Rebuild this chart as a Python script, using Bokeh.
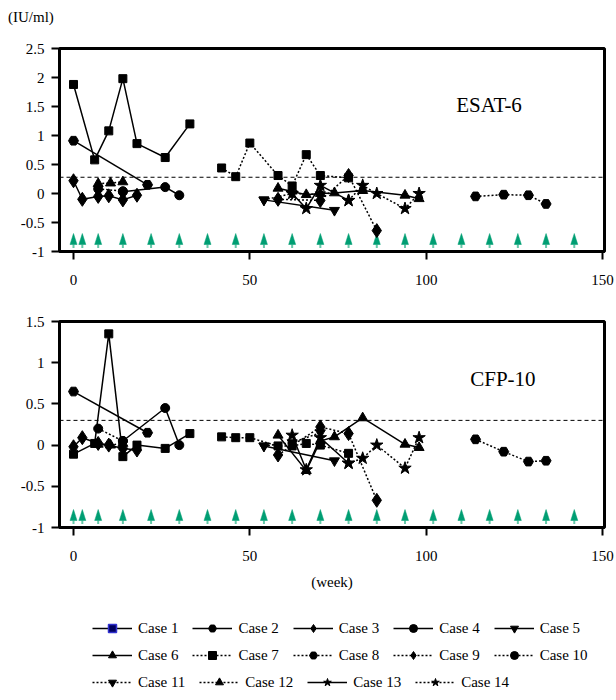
from bokeh.plotting import figure
from bokeh.layouts import column
from bokeh.models import Span, Label, Legend, LegendItem, FixedTicker, Range1d, Div
from bokeh.embed import file_html
from bokeh.resources import INLINE

FONT = "Liberation Serif"

# ---------------- data ----------------
case_names = ["Case 1", "Case 2", "Case 3", "Case 4", "Case 5", "Case 6", "Case 7",
              "Case 8", "Case 9", "Case 10", "Case 11", "Case 12", "Case 13", "Case 14"]

weeks_1 = [0, 6, 10, 14, 18, 26, 33]
esat_1 = [1.88, 0.58, 1.08, 1.98, 0.86, 0.62, 1.20]
cfp_1 = [-0.11, 0.02, 1.35, -0.14, 0.00, -0.04, 0.14]

weeks_2 = [0, 21]
esat_2 = [0.91, 0.15]
cfp_2 = [0.65, 0.15]

weeks_3 = [0, 2.5, 7, 10, 14, 18]
esat_3 = [0.22, -0.10, -0.05, -0.04, -0.11, -0.03]
cfp_3 = [-0.02, 0.09, 0.02, 0.00, -0.04, -0.06]

weeks_4 = [14, 26, 30]
esat_4 = [0.03, 0.11, -0.03]
cfp_4 = [0.05, 0.45, 0.00]

weeks_5 = [54, 74]
esat_5 = [-0.11, -0.29]
cfp_5 = [-0.01, -0.19]

weeks_6 = [58, 66, 70, 74, 82, 94, 98]
esat_6 = [0.09, -0.02, 0.00, 0.01, 0.05, -0.03, -0.09]
cfp_6 = [0.12, -0.31, 0.05, 0.10, 0.33, 0.01, -0.03]

weeks_7 = [42, 46, 50, 58, 62, 66, 70, 78]
esat_7 = [0.44, 0.29, 0.87, 0.31, 0.13, 0.67, 0.31, 0.27]
cfp_7 = [0.10, 0.09, 0.09, -0.01, -0.01, 0.02, 0.00, -0.10]

weeks_8 = [114, 122, 129, 134]
esat_8 = [-0.05, -0.02, -0.03, -0.18]
cfp_8 = [0.07, -0.08, -0.20, -0.19]

weeks_9 = [58, 70, 78, 86]
esat_9 = [-0.10, -0.12, 0.31, -0.64]
cfp_9 = [-0.12, 0.22, 0.14, -0.67]

weeks_10 = [7, 14]
esat_10 = [0.08, 0.04]
cfp_10 = [0.20, 0.05]

weeks_11 = [54, 62, 70]
esat_11 = [-0.11, 0.00, -0.02]
cfp_11 = [-0.01, 0.03, 0.15]

weeks_12 = [7, 10.5, 14]
esat_12 = [0.17, 0.18, 0.20]
cfp_12 = [0.01, 0.00, 0.02]

weeks_13 = [62, 66, 70, 78]
esat_13 = [0.00, -0.26, 0.14, -0.12]
cfp_13 = [0.12, -0.30, 0.09, -0.22]

weeks_14 = [78, 82, 86, 94, 98]
esat_14 = [-0.12, 0.14, 0.00, -0.26, 0.00]
cfp_14 = [-0.22, -0.16, 0.00, -0.28, 0.09]

treatment_weeks = [0, 2.5, 7, 14, 22, 30, 38, 46, 54, 62, 70, 78, 86, 94, 102, 110, 118, 126, 134, 142]

esat_cutoff = 0.28
cfp_cutoff = 0.30

x_ticks = [0, 50, 100, 150]
x_tick_labels = ["0", "50", "100", "150"]
esat_ticks = [-1, -0.5, 0, 0.5, 1, 1.5, 2, 2.5]
esat_tick_labels = ["-1", "-0.5", "0", "0.5", "1", "1.5", "2", "2.5"]
cfp_ticks = [-1, -0.5, 0, 0.5, 1, 1.5]
cfp_tick_labels = ["-1", "-0.5", "0", "0.5", "1", "1.5"]

weeks_all = [weeks_1, weeks_2, weeks_3, weeks_4, weeks_5, weeks_6, weeks_7,
             weeks_8, weeks_9, weeks_10, weeks_11, weeks_12, weeks_13, weeks_14]
esat_all = [esat_1, esat_2, esat_3, esat_4, esat_5, esat_6, esat_7,
            esat_8, esat_9, esat_10, esat_11, esat_12, esat_13, esat_14]
cfp_all = [cfp_1, cfp_2, cfp_3, cfp_4, cfp_5, cfp_6, cfp_7,
           cfp_8, cfp_9, cfp_10, cfp_11, cfp_12, cfp_13, cfp_14]

# ---------------- styles ----------------
markers = ["square", "hex", "diamond", "circle", "inverted_triangle", "triangle",
           "square", "hex", "diamond", "circle", "inverted_triangle", "triangle",
           "star", "star"]
sizes = {"square": 8, "hex": 10, "diamond": 14, "circle": 9,
         "inverted_triangle": 10, "triangle": 10, "star": 13}
dashes = ["solid"] * 6 + ["2 2"] * 6 + ["solid", "2 2"]
ARROW = "#009E73"
ARROW_STEM = "#66c7a8"

W = 616
BL, BR = 59, 12
X_RANGE = (-3.97, 150.57)
FRAME_W = W - BL - BR


def make_panel(values, yr, ticks, tick_labels, cutoff, name, name_xy, height,
               top, bottom, show_xlabel):
    frame_h = height - top - bottom
    p = figure(width=W, height=height, output_backend="svg", toolbar_location=None,
               x_range=Range1d(*X_RANGE), y_range=Range1d(*yr),
               min_border_left=BL, min_border_right=BR,
               min_border_top=top, min_border_bottom=bottom)
    p.xgrid.visible = False
    p.ygrid.visible = False
    p.outline_line_color = "black"
    p.outline_line_width = 3
    p.background_fill_color = "white"
    p.border_fill_color = "white"

    for ax in (p.xaxis[0], p.yaxis[0]):
        ax.axis_line_width = 3
        ax.axis_line_color = "black"
        ax.major_tick_line_width = 2
        ax.major_tick_line_color = "black"
        ax.major_tick_out = 8
        ax.major_tick_in = 0
        ax.minor_tick_line_color = None
        ax.major_label_text_font = FONT
        ax.major_label_text_font_size = "15px"
        ax.major_label_text_color = "black"
    p.xaxis.ticker = FixedTicker(ticks=x_ticks)
    p.xaxis.major_label_overrides = dict(zip(x_ticks, x_tick_labels))
    p.xaxis.major_label_standoff = 15
    p.yaxis.ticker = FixedTicker(ticks=ticks)
    p.yaxis.major_label_overrides = dict(zip(ticks, tick_labels))
    p.yaxis.major_label_standoff = 7
    if show_xlabel:
        p.xaxis.axis_label = "(week)"
        p.xaxis.axis_label_text_font = FONT
        p.xaxis.axis_label_text_font_size = "15px"
        p.xaxis.axis_label_text_font_style = "normal"
        p.xaxis.axis_label_text_color = "black"
        p.xaxis.axis_label_standoff = 10

    p.add_layout(Span(location=cutoff, dimension="width", line_color="black",
                      line_width=1, line_dash="4 3"))

    # treatment arrows (shape sized in pixels, converted to data units)
    ppu = frame_h / (yr[1] - yr[0])
    ppw = FRAME_W / (X_RANGE[1] - X_RANGE[0])
    tip = yr[0] + 18 / ppu
    base = yr[0] + 7 / ppu
    stem = yr[0] + 3.5 / ppu
    hw = 3.5 / ppw
    xs = [[w - hw, w, w + hw] for w in treatment_weeks]
    ys = [[base, tip, base] for _ in treatment_weeks]
    p.segment(x0=treatment_weeks, y0=[base] * len(treatment_weeks),
              x1=treatment_weeks, y1=[stem] * len(treatment_weeks),
              line_color=ARROW_STEM, line_width=2)
    p.patches(xs, ys, fill_color=ARROW, line_color=ARROW, line_width=0.5)

    for wk, val, mk, dash in zip(weeks_all, values, markers, dashes):
        p.line(wk, val, line_color="black", line_width=1.5, line_dash=dash)
        p.scatter(wk, val, marker=mk, size=sizes[mk], fill_color="black",
                  line_color="black")

    p.add_layout(Label(x=name_xy[0], y=name_xy[1], text=name, text_font=FONT,
                       text_font_size="21px", text_color="black",
                       text_baseline="alphabetic"))
    return p


unit_div = Div(text=('<div style="font-family:\'Liberation Serif\';font-size:15px;'
                     'line-height:17px;color:black;margin:0;padding:9px 0 0 8px;">'
                     '(IU/ml)</div>'),
               width=W, height=26, margin=0)

p1 = make_panel(esat_all, (-1, 2.5), esat_ticks, esat_tick_labels, esat_cutoff,
                "ESAT-6", (108.5, 1.53), 269, 22, 44, False)

p2 = make_panel(cfp_all, (-1, 1.5), cfp_ticks, cfp_tick_labels, cfp_cutoff,
                "CFP-10", (112.5, 0.805), 305, 26, 73, True)

# ---------------- legend panel ----------------
p3 = figure(width=W, height=100, output_backend="svg", toolbar_location=None,
            x_range=Range1d(0, 1), y_range=Range1d(0, 1),
            x_axis_type=None, y_axis_type=None,
            min_border_left=BL, min_border_right=BR, min_border_top=0,
            min_border_bottom=0)
p3.xgrid.visible = False
p3.ygrid.visible = False
p3.outline_line_color = None
p3.background_fill_color = "white"
p3.border_fill_color = "white"

items = []
for i, (nm, mk, dash) in enumerate(zip(case_names, markers, dashes)):
    rl = p3.line([-10, -9], [-10, -9], line_color="black", line_width=1.5, line_dash=dash)
    if i == 0:
        rs = p3.scatter([-10], [-10], marker=mk, size=8, fill_color="#000060",
                        line_color="#3030d0", line_width=1.5)
    else:
        rs = p3.scatter([-10], [-10], marker=mk, size=8, fill_color="black",
                        line_color="black")
    items.append(LegendItem(label=nm, renderers=[rl, rs]))

rows = [(items[0:5], 62), (items[5:10], 35), (items[10:14], 8)]
for its, yloc in rows:
    lg = Legend(items=its, orientation="horizontal", location=(33, yloc),
                label_text_font=FONT, label_text_font_size="15px",
                label_text_color="black", glyph_width=40, glyph_height=20,
                label_standoff=6, spacing=14, padding=0, margin=0,
                border_line_color=None, background_fill_alpha=0)
    p3.add_layout(lg)

layout = column(unit_div, p1, p2, p3)
open("out.html", "w").write(file_html(layout, INLINE))
